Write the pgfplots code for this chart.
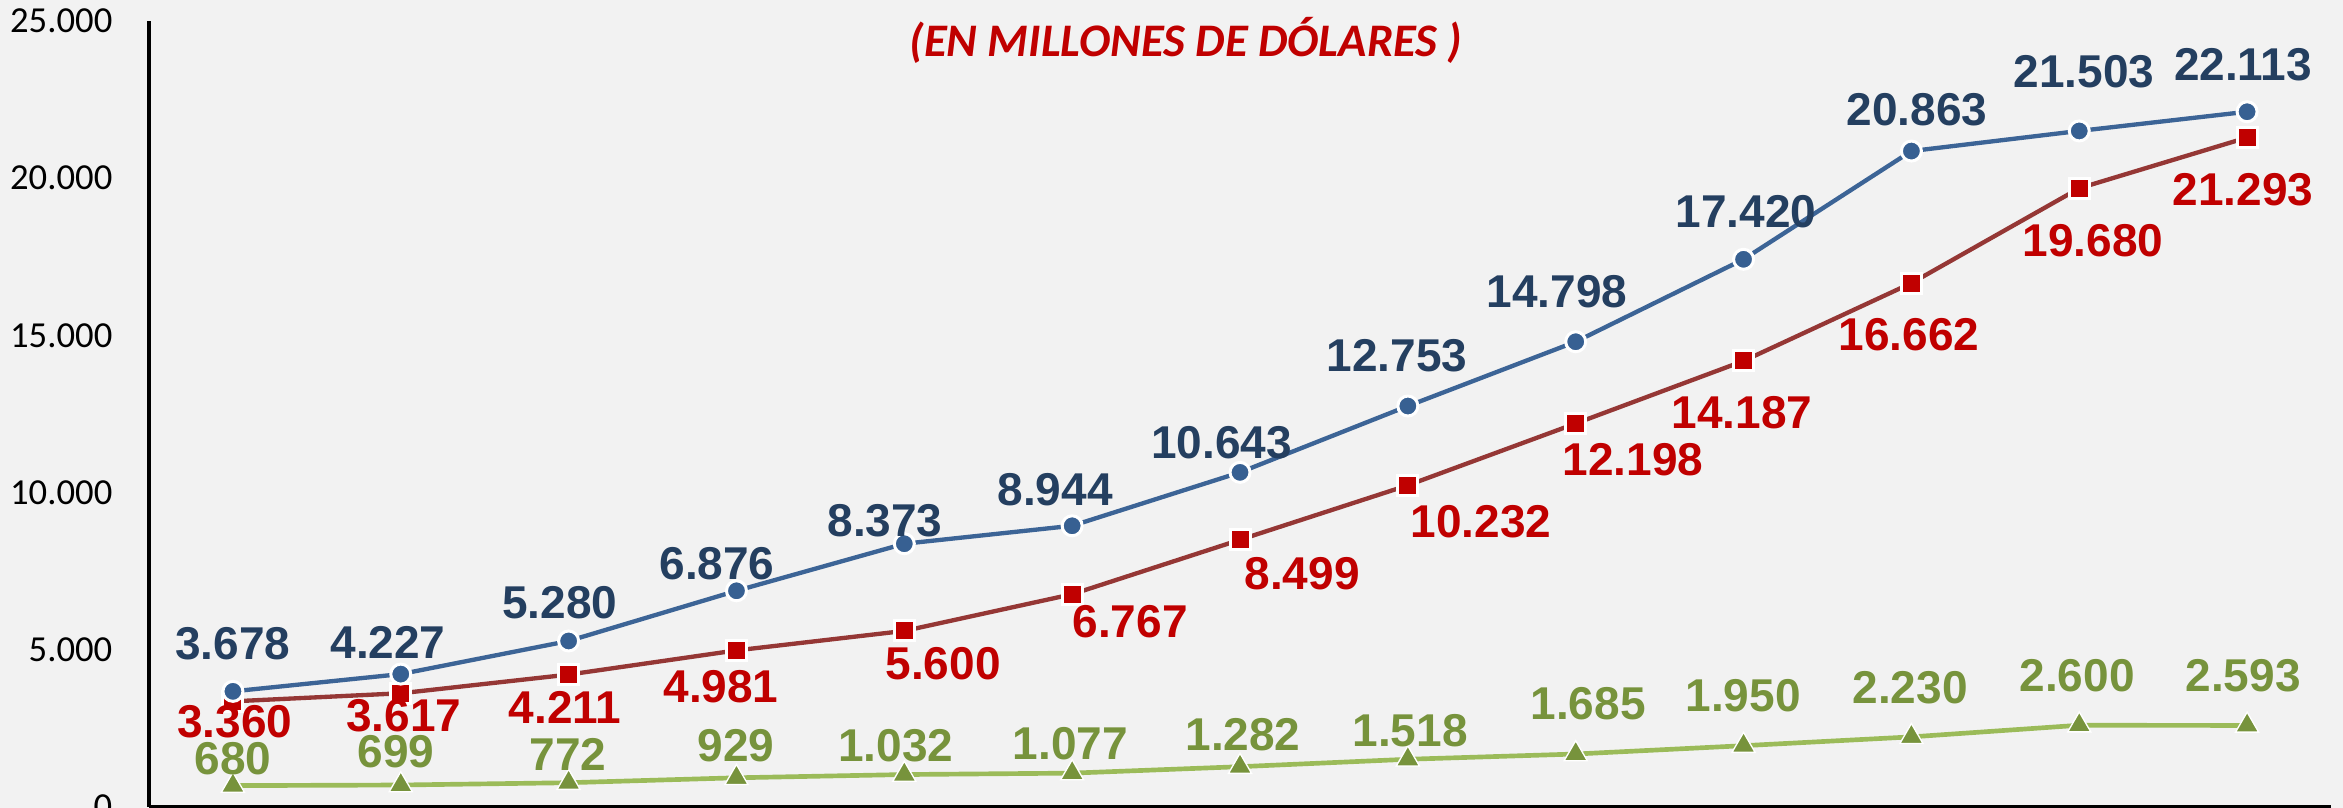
\documentclass[border=0pt]{standalone}
\usepackage{fontspec}
\setmainfont{Liberation Sans}
\newfontfamily\calibri{Carlito}
\usepackage{pgfplots}
\pgfplotsset{compat=1.18}
\definecolor{bg}{HTML}{F2F2F2}
\definecolor{blueline}{HTML}{3C6496}
\definecolor{bluemark}{HTML}{376092}
\definecolor{bluelab}{HTML}{243F60}
\definecolor{redline}{HTML}{953735}
\definecolor{redmark}{HTML}{C00000}
\definecolor{greenline}{HTML}{9BBB59}
\definecolor{greenmark}{HTML}{77933C}
\begin{document}
\begin{tikzpicture}
\fill[bg] (-44.7pt,-0.3pt) rectangle (658.2pt,242.1pt);
\begin{axis}[
  at={(0,0)}, anchor=south west,
  scale only axis, width=654.6pt, height=235.8pt,
  xmin=-0.5, xmax=12.5, ymin=0, ymax=25000,
  axis x line*=bottom, axis y line*=left,
  axis line style={black, line width=1.2pt, -},
  xtick=\empty,
  ytick={0,5000,10000,15000,20000,25000},
  major tick length=0pt,
  scaled y ticks=false,
  yticklabel style={font=\calibri\fontsize{11}{13}\selectfont, anchor=east, inner sep=0pt, xshift=-10.8pt},
  /pgf/number format/1000 sep={.},
  /pgf/number format/assume math mode=true,
  clip=false,
]
\addplot[color=greenline, line width=1.4pt, mark=triangle*, mark size=4pt,
  mark options={fill=greenmark, draw=white, line width=0.4pt}] coordinates {
(0,680) (1,699) (2,772) (3,929) (4,1032) (5,1077) (6,1282) (7,1518) (8,1685) (9,1950) (10,2230) (11,2600) (12,2593)};
\addplot[color=redline, line width=1.3pt, mark=square*, mark size=3pt,
  mark options={fill=redmark, draw=white, line width=0.9pt}] coordinates {
(0,3360) (1,3617) (2,4211) (3,4981) (4,5600) (5,6767) (6,8499) (7,10232) (8,12198) (9,14187) (10,16662) (11,19680) (12,21293)};
\addplot[color=blueline, line width=1.3pt, mark=*, mark size=3pt,
  mark options={fill=bluemark, draw=white, line width=0.9pt}] coordinates {
(0,3678) (1,4227) (2,5280) (3,6876) (4,8373) (5,8944) (6,10643) (7,12753) (8,14798) (9,17420) (10,20863) (11,21503) (12,22113)};
% data labels
\addplot[draw=none, mark=none, nodes near coords, point meta=explicit symbolic,
  nodes near coords style={anchor=center, inner sep=0pt, text=bluelab, font=\bfseries\fontsize{13.8}{15}\selectfont}]
  table[meta=lab] {
x y lab
0 5185 3.678
0.924 5248 4.227
1.948 6489 5.280
2.884 7729 6.876
3.885 9097 8.373
4.898 10083 8.944
5.890 11578 10.643
6.936 14345 12.753
7.889 16381 14.798
9.015 18925 17.420
10.034 22169 20.863
11.029 23378 21.503
11.976 23601 22.113
};
\addplot[draw=none, mark=none, nodes near coords, point meta=explicit symbolic,
  nodes near coords style={anchor=center, inner sep=0pt, text=redmark, font=\bfseries\fontsize{13.8}{15}\selectfont}]
  table[meta=lab] {
x y lab
0.012 2704 3.360
1.019 2894 3.617
1.978 3181 4.211
2.908 3817 4.981
4.231 4548 5.600
5.345 5884 6.767
6.370 7411 8.499
7.436 9065 10.232
8.342 11037 12.198
8.991 12532 14.187
9.986 15013 16.662
11.083 18003 19.680
11.976 19625 21.293
};
\addplot[draw=none, mark=none, nodes near coords, point meta=explicit symbolic,
  nodes near coords style={anchor=center, inner sep=0pt, text=greenmark, font=\bfseries\fontsize{13.8}{15}\selectfont}]
  table[meta=lab] {
x y lab
0 1527 680
0.971 1749 699
1.996 1686 772
2.997 1940 929
3.950 1940 1.032
4.990 2004 1.077
6.018 2290 1.282
7.013 2417 1.518
8.074 3276 1.685
8.997 3531 1.950
9.992 3785 2.230
10.987 4167 2.600
11.976 4167 2.593
};
\node[anchor=base, inner sep=0pt, text=redmark, font=\calibri\bfseries\itshape\fontsize{14}{16}\selectfont]
  at (axis cs:5.678,23855) {(EN MILLONES DE DÓLARES )};
\end{axis}
\pgfresetboundingbox
\path[use as bounding box] (-44.7pt,-0.3pt) rectangle (658.2pt,242.1pt);
\end{tikzpicture}
\end{document}
